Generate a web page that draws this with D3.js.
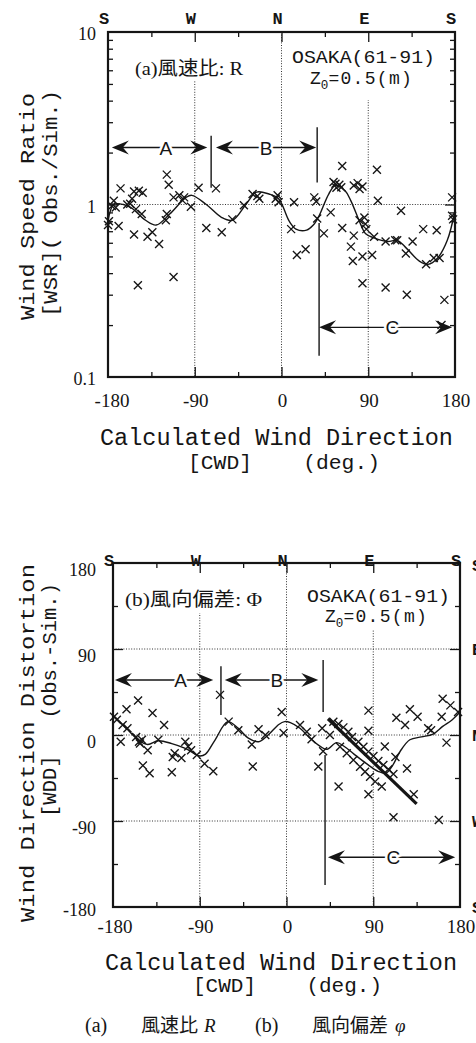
<!DOCTYPE html>
<html><head><meta charset="utf-8">
<script src="https://cdn.jsdelivr.net/npm/d3@7"></script>
<style>
html,body{margin:0;padding:0;background:#fff;overflow:hidden;}
svg{display:block;}
</style></head><body>
<script>
// ---- axis labels and ticks ----
const compassLabels = ["S", "W", "N", "E", "S"];
const compassDeg = [-180, -90, 0, 90, 180];
const sideCompass = ["S", "E", "N", "W", "S"];
const sideCompassDeg = [180, 90, 0, -90, -180];
const dirTicks = [-180, -90, 0, 90, 180];
const dirMinor = [-135, -45, 45, 135];
const ratioLabels = [0.1, 1, 10];
const ratioMinor = [0.2, 0.3, 0.4, 0.5, 0.6, 0.7, 0.8, 0.9, 2, 3, 4, 5, 6, 7, 8, 9];
const distTicks = [-180, -90, 0, 90, 180];
const distMinor = [-135, -45, 45, 135];

// ---- (a) wind speed ratio: observed points [CWD deg, WSR] ----
const wsrObs = [
  [-180,0.76],[-179,0.80],[-176,0.98],[-174,1.05],[-172,0.96],[-169,0.75],[-167,1.24],
  [-160,1.00],[-157,1.01],[-155,1.08],[-153,1.19],[-153,0.67],[-151,0.94],[-148,1.20],
  [-145,0.88],[-144,1.17],[-139,0.65],[-134,0.69],[-127,0.59],[-120,0.81],[-119,0.88],
  [-119,1.49],[-117,1.30],[-112,0.38],[-112,1.10],[-106,1.13],[-103,1.06],[-101,1.10],
  [-94,0.97],[-149,0.34],[-86,1.25],[-78,0.73],[-68,1.24],[-62,0.69],[-51,0.82],
  [-39,0.99],[-30,1.15],[-25,1.12],[-23,1.08],[-6,1.08],[-4,1.13],[-3,1.03],
  [10,0.72],[13,1.03],[16,0.51],[25,0.55],[34,1.10],[36,1.04],[37,0.83],[44,0.68],
  [51,0.90],[54,1.35],[56,1.32],[57,1.25],[60,1.30],[62,1.26],[63,1.67],[63,0.73],
  [72,0.57],[74,0.47],[75,1.29],[75,0.66],[79,1.33],[81,1.23],[81,0.81],[84,1.27],
  [84,0.50],[84,0.35],[86,0.84],[87,0.77],[88,0.72],[94,0.51],[96,0.65],[99,1.59],
  [100,1.05],[108,0.61],[108,0.33],[118,0.62],[120,0.62],[124,0.92],[129,0.52],
  [130,0.30],[136,0.61],[147,0.72],[150,0.45],[158,0.49],[161,0.71],[164,0.49],
  [166,0.20],[169,0.28],[177,1.10],[177,0.86],[178,0.82]
];
// smoothed WSR
const wsrMean = [
  [-180,0.80],[-174,1.00],[-164,1.00],[-155,0.95],[-141,0.81],[-130,0.76],[-116,0.88],
  [-99,1.10],[-93,1.13],[-78,1.00],[-62,0.84],[-51,0.81],[-37,1.00],[-26,1.18],
  [-13,1.15],[-3,1.08],[8,0.80],[15,0.72],[26,0.71],[33,0.76],[39,0.86],[49,1.15],
  [56,1.29],[66,1.20],[72,1.05],[82,0.77],[87,0.68],[96,0.64],[110,0.61],[120,0.62],
  [128,0.57],[143,0.47],[152,0.45],[162,0.49],[172,0.62],[180,0.92]
];

// ---- (b) wind direction distortion: observed points [CWD deg, WDD deg] ----
const wddObs = [
  [-179,19],[-176,16],[-170,10.5],[-165,7],[-172,-7],[-166,27],[-154,36],[-156,-2],
  [-153,-7],[-152,-9],[-150,-5],[-144,-16],[-139,23],[-133,-5],[-127,10.5],[-149,-32],
  [-142,-40],[-119,-39],[-118,-23],[-116,-19],[-109,-24],[-105,-7],[-102,-12],[-99,-16],
  [-93,-21],[-85,-30],[-76,-38],[-69,42],[-60,14],[-50,5],[-36,-10],[-35,-33],[-29,6],
  [-22,0],[-5,24],[-3,2],[14,10.5],[21,3.5],[26,-4.5],[33,-33],[37,7],[38,-17],[45,0],
  [54,-54],[85,25.5],[85,4.5],[85,-62],[102,-12],[111,-86],[114,18],[123,10.5],
  [125,-35],[128,27],[132,-62],[136,19],[147,7],[150,5],[158,-89],[161,19],[162,38],
  [166,-8],[170,31],[178,24],
  [48.6,13.9],[53.8,11.5],[59,8],[64.2,3.5],[68,-2],[74.6,-7],[79.8,-12.2],[85,-17.4],
  [90.2,-22],[95.3,-27.2],[100.5,-31.4],[105.7,-35.9],[110.9,-40.8],
  [55.5,-12.2],[62.5,-19.2],[69.4,-26.2],[76.3,-33.2],[81.5,-38.4],[86.7,-43.6],
  [92,-48.8],[98.8,-54],[113,-23]
];
// smoothed WDD
const wddMean = [
  [-180,21],[-168,9],[-154,-5],[-144,-10],[-133,-6],[-119,-9],[-105,-14],[-90,-22],
  [-84,-20],[-74,-5],[-61,14],[-50,7],[-40,-3],[-29,-7],[-19,0],[-8,11],[-2,14],[4,13],
  [14,7],[24,-3],[35,-12],[42,-15],[52,-8],[60,-12],[70,-20],[83,-30],[95,-38],
  [103,-40],[110,-32],[118,-17],[128,-5],[140,-2],[152,1],[162,9],[172,16],[180,24]
];
// fixed-direction line in zone C
const wddFixedLine = [[43,17],[135,-72]];

// ---- drawing ----
const W = 476, H = 1043;
const MONO = "'Liberation Mono','DejaVu Sans Mono',monospace";
const SERIF = "'Liberation Serif','Noto Sans CJK JP',serif";
const SANS = "'Liberation Sans',Arial,sans-serif";
const INK = "#151515";

const svg = d3.select("body").append("svg")
  .attr("width", W).attr("height", H).attr("viewBox", `0 0 ${W} ${H}`);
svg.append("rect").attr("width", W).attr("height", H).attr("fill", "#fff");

const xA = d3.scaleLinear().domain([-180, 180]).range([108, 455]);
const yA = d3.scaleLog().domain([0.1, 10]).range([377, 32]);
const xB = d3.scaleLinear().domain([-180, 180]).range([113, 460]);
const yB = d3.scaleLinear().domain([-180, 180]).range([907, 563]);

function grid(g, x, y, xs, ys) {
  const [x0, x1] = x.range(), [yb, yt] = y.range();
  g.selectAll(null).data(xs).join("line")
    .attr("x1", d => x(d)).attr("x2", d => x(d)).attr("y1", yt).attr("y2", yb)
    .attr("stroke", "#333").attr("stroke-width", 1).attr("stroke-dasharray", "1,1.6");
  g.selectAll(null).data(ys).join("line")
    .attr("y1", d => y(d)).attr("y2", d => y(d)).attr("x1", x0).attr("x2", x1)
    .attr("stroke", "#333").attr("stroke-width", 1).attr("stroke-dasharray", "1,1.6");
}

function ticks(g, x, y, xMaj, xMin, yMaj, yMin) {
  const [x0, x1] = x.range(), [yb, yt] = y.range();
  const add = (axis, tx, ty) => {
    const a = g.append("g").attr("transform", `translate(${tx},${ty})`).call(axis);
    a.select(".domain").remove();
    a.selectAll("text").remove();
    a.selectAll("line").attr("stroke", INK).attr("stroke-width", 1.3);
  };
  add(d3.axisBottom(x).tickValues(xMaj).tickSize(-10), 0, yb);
  add(d3.axisBottom(x).tickValues(xMin).tickSize(-5), 0, yb);
  add(d3.axisTop(x).tickValues(xMaj).tickSize(-10), 0, yt);
  add(d3.axisTop(x).tickValues(xMin).tickSize(-5), 0, yt);
  add(d3.axisLeft(y).tickValues(yMaj).tickSize(-10), x0, 0);
  add(d3.axisLeft(y).tickValues(yMin).tickSize(-5), x0, 0);
  add(d3.axisRight(y).tickValues(yMaj).tickSize(-10), x1, 0);
  add(d3.axisRight(y).tickValues(yMin).tickSize(-5), x1, 0);
  g.append("rect").attr("x", x0).attr("y", yt).attr("width", x1 - x0).attr("height", yb - yt)
    .attr("fill", "none").attr("stroke", INK).attr("stroke-width", 2.2);
}

function mask(g, x, y, w, h) {
  g.append("rect").attr("x", x).attr("y", y).attr("width", w).attr("height", h).attr("fill", "#fff");
}

function marks(g, data, x, y) {
  g.selectAll(null).data(data).join("path")
    .attr("transform", d => `translate(${x(d[0])},${y(d[1])})`)
    .attr("d", "M-4,-4L4,4M-4,4L4,-4")
    .attr("stroke", INK).attr("stroke-width", 1.35).attr("fill", "none");
}

function curve(g, data, x, y, w) {
  g.append("path").datum(data)
    .attr("d", d3.line().x(d => x(d[0])).y(d => y(d[1])).curve(d3.curveCatmullRom.alpha(0.5)))
    .attr("fill", "none").attr("stroke", INK).attr("stroke-width", w);
}

function head(g, px, py, dir) {
  const L = 17, hw = 7, n = 6;
  g.append("path")
    .attr("d", `M${px},${py}L${px - dir * L},${py - hw}L${px - dir * (L - n)},${py}L${px - dir * L},${py + hw}Z`)
    .attr("fill", INK);
}

function span(g, x, y, d1, d2, v, label, dl) {
  const px1 = x(d1), px2 = x(d2), py = y(v);
  g.append("line").attr("x1", px1 + 8).attr("x2", px2 - 8).attr("y1", py).attr("y2", py)
    .attr("stroke", INK).attr("stroke-width", 1.4);
  head(g, px1, py, -1);
  head(g, px2, py, 1);
  g.append("text").attr("x", x(dl)).attr("y", py + 7).attr("text-anchor", "middle")
    .attr("font-family", SANS).attr("font-size", 19).attr("fill", INK)
    .attr("stroke", "#fff").attr("stroke-width", 5).attr("paint-order", "stroke")
    .text(label);
}

function bar(g, x, y, d, v1, v2) {
  g.append("line").attr("x1", x(d)).attr("x2", x(d)).attr("y1", y(v1)).attr("y2", y(v2))
    .attr("stroke", INK).attr("stroke-width", 1.4);
}

function txt(g, s, px, py, o) {
  const t = g.append("text").attr("x", px).attr("y", py)
    .attr("font-family", o.font).attr("font-size", o.size).attr("fill", INK)
    .attr("text-anchor", o.anchor || "start").style("white-space", "pre");
  if (o.weight) t.attr("font-weight", o.weight);
  if (o.len) t.attr("textLength", o.len).attr("lengthAdjust", "spacingAndGlyphs");
  if (o.rot) t.attr("transform", `rotate(-90,${px},${py})`);
  t.text(s);
  return t;
}

function zLabel(g, px, py, size) {
  const t = g.append("text").attr("x", px).attr("y", py)
    .attr("font-family", MONO).attr("font-size", size).attr("fill", INK).style("white-space", "pre");
  t.append("tspan").text("Z");
  t.append("tspan").attr("dy", 5).attr("font-size", size * 0.7).text("0");
  t.append("tspan").attr("dy", -5).attr("letter-spacing", 1.3).text("=0.5(m)");
}

// ================= panel (a) =================
const gA = svg.append("g");
grid(gA, xA, yA, [-90, 0, 90], [1]);
mask(gA, 130, 33, 118, 48);
mask(gA, 290, 33, 150, 67);
ticks(gA, xA, yA, [-90, 0, 90], dirMinor, [1], ratioMinor);
curve(gA, wsrMean, xA, yA, 1.4);
marks(gA, wsrObs, xA, yA);
span(gA, xA, yA, -176, -77, 2.14, "A", -120);
bar(gA, xA, yA, -73, 2.5, 1.25);
span(gA, xA, yA, -68, 36, 2.14, "B", -16);
bar(gA, xA, yA, 37, 2.8, 1.34);
span(gA, xA, yA, 39, 177, 0.194, "C", 115);
bar(gA, xA, yA, 39, 0.78, 0.133);

txt(gA, "(a)風速比: R", 135, 75, {font: SERIF, size: 19, len: 108});
txt(gA, "OSAKA(61-91)", 292, 63, {font: MONO, size: 18, len: 143});
zLabel(gA, 310, 84, 18);

compassLabels.forEach((s, i) => txt(gA, s, xA(compassDeg[i]) - 4, 24,
  {font: MONO, size: 17, weight: "bold", anchor: "middle"}));
dirTicks.forEach(d => txt(gA, String(d), xA(d) + (d === -180 ? 4 : 1), 407,
  {font: SERIF, size: 19, anchor: "middle"}));
ratioLabels.forEach(v => txt(gA, String(v), 96, yA(v) + 8,
  {font: SERIF, size: 18, anchor: "end"}));

txt(gA, "Calculated Wind Direction", 100, 445, {font: MONO, size: 23, len: 353});
txt(gA, "[CWD]    (deg.)", 188, 469, {font: MONO, size: 21, len: 192});
txt(gA, "Wind Speed Ratio", 34, 320, {font: MONO, size: 21, len: 227, rot: true});
txt(gA, "[WSR]( Obs./Sim.)", 57, 317, {font: MONO, size: 21, len: 227, rot: true});

// ================= panel (b) =================
const gB = svg.append("g");
grid(gB, xB, yB, [-90, 0, 90], [90, 0, -90]);
mask(gB, 120, 564, 146, 49);
mask(gB, 303, 564, 152, 66);
ticks(gB, xB, yB, [-90, 0, 90], distMinor, [90, 0, -90], distMinor);
curve(gB, wddMean, xB, yB, 1.4);
curve(gB, wddFixedLine, xB, yB, 3.2);
marks(gB, wddObs, xB, yB);
span(gB, xB, yB, -178, -76, 57.6, "A", -110);
bar(gB, xB, yB, -68, 72, 21);
span(gB, xB, yB, -64, 33, 57.6, "B", -10);
bar(gB, xB, yB, 38, 78.5, 24);
span(gB, xB, yB, 43, 175, -128, "C", 111);
bar(gB, xB, yB, 40, -21, -157);

txt(gB, "(b)風向偏差: Φ", 125, 606, {font: SERIF, size: 19, len: 137});
txt(gB, "OSAKA(61-91)", 307, 602, {font: MONO, size: 18, len: 143});
zLabel(gB, 325, 622, 18);

compassLabels.forEach((s, i) => txt(gB, s, xB(compassDeg[i]) - 4, 566,
  {font: MONO, size: 17, weight: "bold", anchor: "middle"}));
// left edge of the neighbouring axis, mostly beyond the page edge
sideCompass.forEach((s, i) => txt(gB, s, 472, yB(sideCompassDeg[i]) + 6 + (i === 0 ? 2 : 0),
  {font: MONO, size: 17, weight: "bold"}));
dirTicks.forEach(d => txt(gB, String(d), xB(d) + (d === -180 ? 2 : 1), 933,
  {font: SERIF, size: 19, anchor: "middle"}));
distTicks.forEach(v => txt(gB, String(v), 96, yB(v) + (v === -180 ? 9 : 13),
  {font: SERIF, size: 18, anchor: "end"}));

txt(gB, "Calculated Wind Direction", 105, 970, {font: MONO, size: 23, len: 352});
txt(gB, "[CWD]    (deg.)", 193, 992, {font: MONO, size: 21, len: 189});
txt(gB, "Wind Direction Distortion", 34, 922, {font: MONO, size: 21, len: 358, rot: true});
txt(gB, "[WDD]   (Obs.-Sim.)", 56, 817, {font: MONO, size: 21, len: 234, rot: true});

// ================= caption =================
const gC = svg.append("g");
txt(gC, "(a)", 85, 1032, {font: SERIF, size: 20});
txt(gC, "風速比", 141, 1032, {font: SERIF, size: 19});
txt(gC, "R", 204, 1032, {font: SERIF, size: 19}).attr("font-style", "italic");
txt(gC, "(b)", 255, 1032, {font: SERIF, size: 20});
txt(gC, "風向偏差", 312, 1032, {font: SERIF, size: 19});
txt(gC, "φ", 395, 1032, {font: SERIF, size: 19}).attr("font-style", "italic");
</script>
</body></html>
